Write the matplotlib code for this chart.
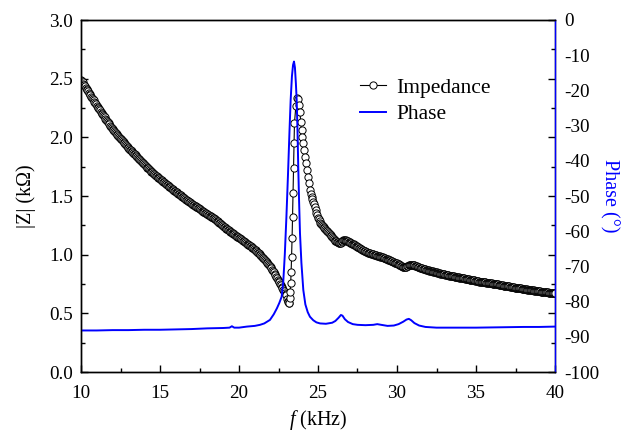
import numpy as np
import matplotlib
matplotlib.use("Agg")
import matplotlib.pyplot as plt
from matplotlib.ticker import MultipleLocator, FormatStrFormatter

plt.rcParams['font.family'] = ['Liberation Serif', 'DejaVu Serif']
plt.rcParams['mathtext.fontset'] = 'custom'
plt.rcParams['mathtext.rm'] = 'Liberation Serif'
plt.rcParams['mathtext.it'] = 'Liberation Serif:italic'
plt.rcParams['axes.unicode_minus'] = False

# ---------------- data ----------------
# impedance |Z| (kOhm), low-frequency sweep 10.00 .. 23.00 kHz, step 0.05
f_low_start, f_low_step = 10.0, 0.05
z_low = [
    2.490, 2.479, 2.468, 2.457, 2.446, 2.435, 2.424, 2.413, 2.402, 2.391,
    2.380, 2.369, 2.358, 2.347, 2.336, 2.325, 2.314, 2.303, 2.292, 2.281,
    2.270, 2.259, 2.249, 2.239, 2.229, 2.219, 2.209, 2.199, 2.189, 2.180,
    2.170, 2.160, 2.150, 2.140, 2.130, 2.120, 2.110, 2.100, 2.090, 2.080,
    2.070, 2.061, 2.053, 2.044, 2.036, 2.028, 2.020, 2.012, 2.005, 1.997,
    1.990, 1.982, 1.974, 1.966, 1.958, 1.950, 1.942, 1.934, 1.926, 1.918,
    1.910, 1.903, 1.896, 1.889, 1.882, 1.875, 1.868, 1.861, 1.854, 1.847,
    1.840, 1.833, 1.826, 1.819, 1.812, 1.805, 1.798, 1.791, 1.784, 1.777,
    1.770, 1.763, 1.756, 1.749, 1.742, 1.735, 1.728, 1.721, 1.714, 1.707,
    1.701, 1.695, 1.690, 1.684, 1.678, 1.672, 1.667, 1.661, 1.656, 1.650,
    1.645, 1.639, 1.634, 1.628, 1.623, 1.617, 1.612, 1.606, 1.601, 1.595,
    1.590, 1.584, 1.579, 1.573, 1.568, 1.562, 1.557, 1.551, 1.546, 1.540,
    1.535, 1.530, 1.525, 1.520, 1.515, 1.510, 1.505, 1.500, 1.495, 1.490,
    1.485, 1.480, 1.475, 1.470, 1.465, 1.460, 1.455, 1.450, 1.445, 1.440,
    1.435, 1.430, 1.426, 1.421, 1.417, 1.412, 1.408, 1.403, 1.399, 1.394,
    1.390, 1.385, 1.381, 1.376, 1.372, 1.367, 1.363, 1.358, 1.354, 1.349,
    1.345, 1.340, 1.336, 1.331, 1.327, 1.322, 1.318, 1.313, 1.309, 1.304,
    1.300, 1.294, 1.289, 1.283, 1.278, 1.272, 1.267, 1.261, 1.256, 1.250,
    1.245, 1.239, 1.234, 1.228, 1.223, 1.217, 1.212, 1.206, 1.201, 1.195,
    1.190, 1.185, 1.181, 1.176, 1.172, 1.167, 1.163, 1.158, 1.154, 1.149,
    1.145, 1.140, 1.135, 1.130, 1.125, 1.120, 1.115, 1.110, 1.105, 1.100,
    1.095, 1.090, 1.085, 1.080, 1.075, 1.070, 1.065, 1.060, 1.055, 1.050,
    1.044, 1.038, 1.031, 1.024, 1.017, 1.010, 1.003, 0.996, 0.989, 0.982,
    0.975, 0.968, 0.960, 0.953, 0.946, 0.938, 0.930, 0.921, 0.912, 0.903,
    0.893, 0.883, 0.872, 0.861, 0.850, 0.838, 0.826, 0.813, 0.800, 0.788,
    0.775, 0.763, 0.750, 0.738, 0.725, 0.713, 0.700, 0.688, 0.676, 0.664,
    0.652,
]

# resonance region (kHz, kOhm)
f_res = [23.05, 23.09, 23.12, 23.15, 23.18, 23.21, 23.24, 23.27, 23.30, 23.33,
         23.36, 23.39, 23.42, 23.45, 23.48, 23.51, 23.60, 23.70, 23.75, 23.82,
         23.86, 23.90, 23.96, 24.01, 24.07, 24.13, 24.18, 24.24, 24.28, 24.35,
         24.41, 24.49, 24.55, 24.60, 24.65, 24.70, 24.75, 24.80, 24.85, 24.90,
         24.95]
z_res = [0.625, 0.607, 0.596, 0.588, 0.585, 0.628, 0.685, 0.756, 0.855, 0.983,
         1.140, 1.324, 1.523, 1.737, 1.950, 2.120, 2.270, 2.333, 2.330, 2.276,
         2.219, 2.134, 2.063, 2.006, 1.949, 1.893, 1.836, 1.779, 1.722, 1.665,
         1.608, 1.552, 1.520, 1.495, 1.472, 1.452, 1.430, 1.410, 1.380, 1.355,
         1.335]

# high-frequency sweep 25.00 .. 40.00 kHz, step 0.05
f_high_start, f_high_step = 25.0, 0.05
z_high = [
    1.315, 1.300, 1.285, 1.272, 1.260, 1.251, 1.243, 1.235, 1.228, 1.220,
    1.213, 1.205, 1.198, 1.190, 1.183, 1.174, 1.165, 1.157, 1.150, 1.142,
    1.135, 1.127, 1.120, 1.114, 1.108, 1.104, 1.100, 1.098, 1.097, 1.102,
    1.108, 1.115, 1.122, 1.124, 1.125, 1.123, 1.120, 1.117, 1.113, 1.110,
    1.106, 1.102, 1.099, 1.095, 1.092, 1.088, 1.085, 1.080, 1.075, 1.070,
    1.066, 1.062, 1.058, 1.054, 1.050, 1.046, 1.042, 1.038, 1.035, 1.031,
    1.028, 1.024, 1.021, 1.018, 1.015, 1.012, 1.010, 1.008, 1.006, 1.004,
    1.002, 0.999, 0.997, 0.995, 0.993, 0.991, 0.989, 0.987, 0.985, 0.983,
    0.981, 0.979, 0.977, 0.974, 0.972, 0.969, 0.966, 0.963, 0.960, 0.957,
    0.954, 0.951, 0.948, 0.945, 0.942, 0.939, 0.936, 0.933, 0.930, 0.927,
    0.925, 0.921, 0.918, 0.914, 0.910, 0.906, 0.902, 0.898, 0.895, 0.893,
    0.892, 0.893, 0.895, 0.900, 0.905, 0.909, 0.912, 0.913, 0.914, 0.913,
    0.912, 0.910, 0.908, 0.905, 0.903, 0.900, 0.898, 0.895, 0.893, 0.890,
    0.888, 0.886, 0.884, 0.881, 0.879, 0.877, 0.875, 0.873, 0.871, 0.869,
    0.867, 0.865, 0.864, 0.862, 0.860, 0.858, 0.856, 0.854, 0.852, 0.850,
    0.849, 0.847, 0.845, 0.843, 0.841, 0.839, 0.838, 0.836, 0.834, 0.832,
    0.831, 0.829, 0.828, 0.826, 0.825, 0.823, 0.822, 0.821, 0.820, 0.818,
    0.817, 0.815, 0.814, 0.812, 0.811, 0.810, 0.809, 0.807, 0.806, 0.804,
    0.803, 0.802, 0.801, 0.800, 0.799, 0.797, 0.796, 0.794, 0.793, 0.792,
    0.791, 0.789, 0.788, 0.786, 0.785, 0.784, 0.783, 0.781, 0.780, 0.778,
    0.777, 0.775, 0.774, 0.772, 0.771, 0.770, 0.769, 0.768, 0.767, 0.766,
    0.765, 0.764, 0.763, 0.762, 0.761, 0.760, 0.759, 0.758, 0.757, 0.756,
    0.755, 0.754, 0.753, 0.751, 0.750, 0.749, 0.748, 0.747, 0.746, 0.745,
    0.744, 0.742, 0.741, 0.740, 0.739, 0.737, 0.736, 0.735, 0.734, 0.732,
    0.731, 0.730, 0.729, 0.727, 0.726, 0.725, 0.724, 0.723, 0.722, 0.720,
    0.719, 0.718, 0.717, 0.716, 0.715, 0.714, 0.713, 0.712, 0.711, 0.709,
    0.708, 0.707, 0.706, 0.705, 0.704, 0.703, 0.702, 0.701, 0.700, 0.699,
    0.698, 0.697, 0.696, 0.695, 0.694, 0.693, 0.692, 0.691, 0.690, 0.689,
    0.688, 0.687, 0.686, 0.685, 0.684, 0.683, 0.682, 0.681, 0.681, 0.680,
    0.679, 0.678, 0.677, 0.676, 0.675, 0.674, 0.673, 0.672, 0.672, 0.671,
    0.670,
]

# phase (degrees)
f_phase = [10.0, 11.0, 12.0, 13.0, 14.0, 15.0, 16.0, 17.0, 17.5, 18.0,
           19.0, 19.4, 19.55, 19.7, 20.0, 20.5, 21.0, 21.33, 21.6, 21.96,
           22.2, 22.4, 22.55, 22.7, 22.8, 22.9, 23.0, 23.1, 23.2, 23.27,
           23.35, 23.42, 23.48, 23.54, 23.6, 23.65, 23.7, 23.75, 23.8, 23.86,
           23.95, 24.07, 24.2, 24.35, 24.49, 24.7, 24.9, 25.13, 25.5, 25.9,
           26.1, 26.3, 26.45, 26.55, 26.7, 26.9, 27.2, 27.5, 28.0, 28.5,
           28.75, 29.0, 29.4, 29.8, 30.1, 30.4, 30.6, 30.75, 30.9, 31.1,
           31.4, 31.8, 32.5, 33.5, 35.0, 36.5, 38.0, 39.0, 40.0]
phase = [-88.2, -88.2, -88.1, -88.1, -88.0, -88.0, -87.9, -87.8, -87.7, -87.6,
         -87.5, -87.4, -87.0, -87.4, -87.4, -87.1, -86.9, -86.6, -86.2, -85.2,
         -83.6, -81.9, -80.4, -78.6, -74.5, -66.5, -56.0, -44.0, -31.0, -22.7,
         -16.0, -12.8, -11.8, -13.5, -18.0, -22.7, -31.0, -41.7, -51.0, -60.6,
         -69.0, -76.7, -80.8, -83.0, -84.3, -85.3, -85.9, -86.2, -86.3, -86.0,
         -85.5, -84.6, -83.8, -84.0, -85.0, -85.8, -86.4, -86.6, -86.7, -86.6,
         -86.4, -86.6, -86.9, -86.8, -86.4, -85.7, -85.1, -84.9, -85.3, -86.1,
         -86.8, -87.2, -87.4, -87.4, -87.4, -87.3, -87.2, -87.2, -87.1]

f_low = np.round(f_low_start + f_low_step * np.arange(len(z_low)), 3)
f_high = np.round(f_high_start + f_high_step * np.arange(len(z_high)), 3)
f_imp = np.concatenate([f_low, np.array(f_res), f_high])
z_imp = np.concatenate([np.array(z_low), np.array(z_res), np.array(z_high)])

# ---------------- figure ----------------
W, H = 627, 436
fig = plt.figure(figsize=(W / 100, H / 100), dpi=100)
L, R, T, B = 81, 555, 20, 372
ax = fig.add_axes([L / W, 1 - B / H, (R - L) / W, (B - T) / H])
ax2 = ax.twinx()

imp_line, = ax.plot(f_imp, z_imp, color='black', lw=0.8, marker='o', ms=5.2,
                    mfc='white', mec='black', mew=0.7, label='Impedance')
ph_line, = ax2.plot(f_phase, phase, color='#0000ff', lw=1.4, label='Phase')

ax.set_xlim(10, 40)
ax.set_ylim(0, 3.0)
ax2.set_ylim(-100, 0)

ax.xaxis.set_major_locator(MultipleLocator(5))
ax.xaxis.set_minor_locator(MultipleLocator(2.5))
ax.yaxis.set_major_locator(MultipleLocator(0.5))
ax.yaxis.set_minor_locator(MultipleLocator(0.25))
ax.yaxis.set_major_formatter(FormatStrFormatter('%.1f'))
ax2.yaxis.set_major_locator(MultipleLocator(10))

ax.tick_params(axis='both', which='both', direction='in', labelsize=13.8,
               top=False, right=True, width=1.0)
ax.tick_params(axis='both', which='major', length=5)
ax.tick_params(axis='both', which='minor', length=3)
ax.tick_params(axis='x', pad=9)
ax.tick_params(axis='y', pad=6)
ax2.tick_params(axis='y', which='both', length=0, labelsize=13.8, pad=7)

for s in ax.spines.values():
    s.set_linewidth(1.0)
for s in ax2.spines.values():
    s.set_linewidth(1.0)
ax2.spines['right'].set_color('#0000ff')

ax.set_xlabel('$f$ (kHz)', fontsize=14.5, labelpad=5)
ax.set_ylabel('|Z| (k\u03a9)', fontsize=14.5, labelpad=9)
ax2.set_ylabel('Phase (\u00b0)', fontsize=14.5, color='#0000ff', rotation=-90,
               labelpad=14)

leg = ax2.legend(handles=[imp_line, ph_line], loc='upper left',
                 bbox_to_anchor=(0.57, 0.86), frameon=False, fontsize=15.5,
                 handlelength=1.2, handletextpad=0.5, labelspacing=0.3,
                 borderaxespad=0.0)

fig.savefig('out.png', dpi=100)
